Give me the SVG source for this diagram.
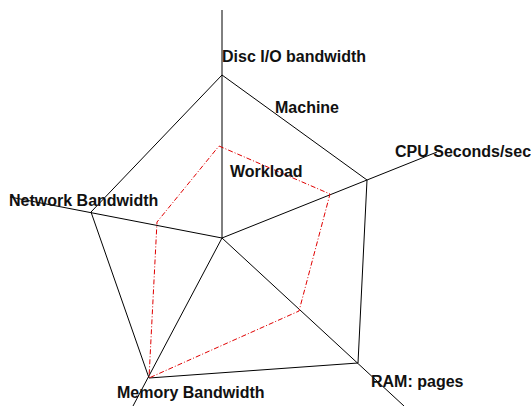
<svg xmlns="http://www.w3.org/2000/svg" width="531" height="406" viewBox="0 0 531 406">
<style>
.ax{stroke:#000;stroke-width:1;fill:none}
.wl{stroke:#e00000;stroke-width:1;fill:none;stroke-dasharray:5 2 1 2}
text{font-family:"Liberation Sans",Arial,sans-serif;font-weight:bold;font-size:16px;fill:#111}
</style>
<rect width="531" height="406" fill="#fff"/>
<g id="connectors">
<line class="ax" x1="222" y1="238" x2="222" y2="10"/>
<line class="ax" x1="222" y1="238" x2="437" y2="152"/>
<line class="ax" x1="222" y1="238" x2="404" y2="406"/>
<line class="ax" x1="222" y1="238" x2="133" y2="406"/>
<line class="ax" x1="222" y1="238" x2="10" y2="197"/>
</g>
<g id="machine">
<polygon class="ax" points="222,75 367,180 358,363 149,378 91,212"/>
<text x="275" y="113">Machine</text>
</g>
<g id="workload">
<polygon class="wl" points="219,146 330,194 299,311 149,378 157,222"/>
<text x="230" y="177">Workload</text>
</g>
<g id="disc"><text x="222" y="62">Disc I/O bandwidth</text></g>
<g id="cpu"><text x="395" y="157">CPU Seconds/sec</text></g>
<g id="ram"><text x="371" y="387">RAM: pages</text></g>
<g id="memory"><text x="117" y="398">Memory Bandwidth</text></g>
<g id="network"><text x="9" y="206">Network Bandwidth</text></g>
</svg>
